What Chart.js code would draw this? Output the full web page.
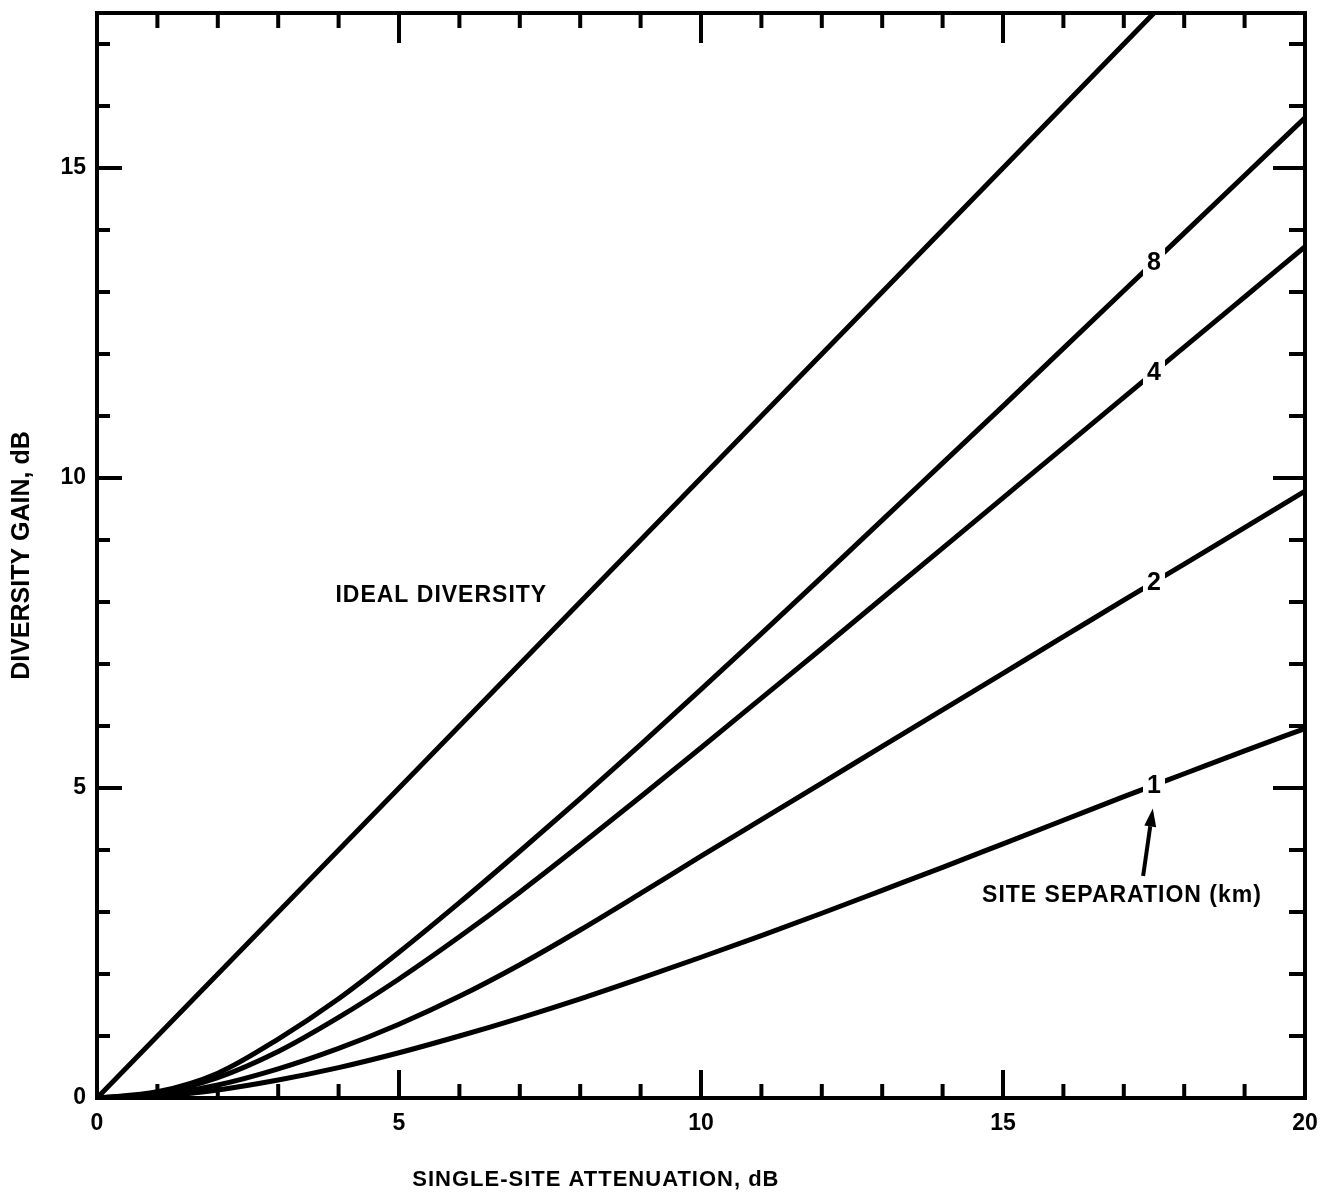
<!DOCTYPE html>
<html>
<head>
<meta charset="utf-8">
<title>Diversity gain vs single-site attenuation</title>
<script src="https://cdn.jsdelivr.net/npm/chart.js@4.4.1/dist/chart.umd.min.js"></script>
<style>
  html, body { margin: 0; padding: 0; background: #ffffff; }
  #wrap { width: 1327px; height: 1200px; position: relative; }
</style>
</head>
<body>
<div id="wrap"><canvas id="chart"></canvas></div>
<script>
// Single-site attenuation, dB (x)
const attenuation = [0, 1, 2, 3, 4, 5, 6, 7, 8, 9, 10, 11, 12, 13, 14, 15, 16, 17, 18, 19, 20];

// Diversity gain, dB, for each site separation
const gain8km = [0, 0.10, 0.40, 0.95, 1.60, 2.35, 3.15, 3.98, 4.83, 5.70, 6.59, 7.49, 8.40, 9.32, 10.24, 11.16, 12.09, 13.02, 13.95, 14.88, 15.81];
const gain4km = [0, 0.08, 0.33, 0.75, 1.30, 1.92, 2.60, 3.32, 4.08, 4.86, 5.65, 6.45, 7.25, 8.06, 8.87, 9.68, 10.49, 11.30, 12.11, 12.92, 13.73];
const gain2km = [0, 0.05, 0.21, 0.47, 0.80, 1.19, 1.64, 2.15, 2.71, 3.30, 3.90, 4.49, 5.08, 5.67, 6.26, 6.85, 7.44, 8.03, 8.61, 9.20, 9.79];
const gain1km = [0, 0.03, 0.13, 0.29, 0.49, 0.73, 1.00, 1.29, 1.60, 1.93, 2.27, 2.62, 2.98, 3.35, 3.72, 4.10, 4.48, 4.86, 5.23, 5.60, 5.96];

// Ideal diversity: gain equals attenuation
const idealX = [0, 17.5];
const idealY = [0, 17.5];

// Curve labels (site separation, km) and where they sit along x
const separationLabels = ['8', '4', '2', '1'];
const labelAtX = 17.5;

// Axis ticks
const xTickLabels = [0, 5, 10, 15, 20];
const yTickLabels = [0, 5, 10, 15];
const xMin = 0, xMax = 20, yMin = 0, yMax = 17.5;

const FONT = '"Liberation Sans", Arial, Helvetica, sans-serif';

function toPoints(xs, ys) {
  return xs.map((x, i) => ({ x: x, y: ys[i] }));
}

const curves = [gain8km, gain4km, gain2km, gain1km];

function valueAt(series, x) {
  for (let i = 0; i < attenuation.length - 1; i++) {
    const x0 = attenuation[i], x1 = attenuation[i + 1];
    if (x >= x0 && x <= x1) {
      const t = (x - x0) / (x1 - x0);
      return series[i] + t * (series[i + 1] - series[i]);
    }
  }
  return series[series.length - 1];
}

const lineStyle = {
  showLine: true,
  borderColor: '#000000',
  borderWidth: 5,
  pointRadius: 0,
  pointHoverRadius: 0,
  cubicInterpolationMode: 'monotone',
  fill: false,
  borderCapStyle: 'round'
};

// Frame, inward tick marks, curve labels and annotations
const framePlugin = {
  id: 'frameAndNotes',
  afterDatasetsDraw(chart) {
    const { ctx, chartArea: a, scales } = chart;
    const xs = scales.x, ys = scales.y;
    ctx.save();

    // Curve labels sitting in a gap of each line
    ctx.font = 'bold 25px ' + FONT;
    ctx.textAlign = 'center';
    ctx.textBaseline = 'middle';
    curves.forEach((series, i) => {
      const px = xs.getPixelForValue(labelAtX);
      const py = ys.getPixelForValue(valueAt(series, labelAtX));
      ctx.fillStyle = '#ffffff';
      ctx.fillRect(px - 11, py - 14, 22, 28);
      ctx.fillStyle = '#000000';
      ctx.fillText(separationLabels[i], px, py + 1);
    });

    // Frame
    ctx.strokeStyle = '#000000';
    ctx.lineWidth = 4;
    ctx.lineCap = 'butt';
    ctx.strokeRect(a.left, a.top, a.right - a.left, a.bottom - a.top);

    // Inward ticks
    ctx.lineWidth = 4;
    ctx.beginPath();
    for (let v = xMin + 1; v < xMax; v++) {
      const px = xs.getPixelForValue(v);
      const major = v % 5 === 0;
      ctx.moveTo(px, a.bottom);
      ctx.lineTo(px, a.bottom - (major ? 28 : 14));
      ctx.moveTo(px, a.top);
      ctx.lineTo(px, a.top + (major ? 30 : 15));
    }
    for (let v = 1; v < yMax; v++) {
      const py = ys.getPixelForValue(v);
      const major = v % 5 === 0;
      ctx.moveTo(a.left, py);
      ctx.lineTo(a.left + (major ? 25 : 13), py);
      ctx.moveTo(a.right, py);
      ctx.lineTo(a.right - (major ? 32 : 16), py);
    }
    ctx.stroke();

    // Text annotations
    ctx.fillStyle = '#000000';
    ctx.font = 'bold 23px ' + FONT;
    ctx.textAlign = 'center';
    ctx.textBaseline = 'middle';
    if ('letterSpacing' in ctx) ctx.letterSpacing = '1px';
    ctx.fillText('IDEAL DIVERSITY', xs.getPixelForValue(5.7), ys.getPixelForValue(8.1));
    ctx.fillText('SITE SEPARATION (km)', xs.getPixelForValue(16.97), ys.getPixelForValue(3.27));

    // X axis title
    ctx.font = 'bold 22px ' + FONT;
    ctx.fillText('SINGLE-SITE ATTENUATION, dB', xs.getPixelForValue(8.26), a.bottom + 82);
    if ('letterSpacing' in ctx) ctx.letterSpacing = '0px';

    // Pointer from the note to the 1 km curve
    const tx = xs.getPixelForValue(17.32), ty = ys.getPixelForValue(3.58);
    const hx = xs.getPixelForValue(17.48), hy = ys.getPixelForValue(4.67);
    const ang = Math.atan2(hy - ty, hx - tx);
    const headLen = 18, headHalf = 6;
    const bx = hx - headLen * Math.cos(ang), by = hy - headLen * Math.sin(ang);
    ctx.lineWidth = 4;
    ctx.beginPath();
    ctx.moveTo(tx, ty);
    ctx.lineTo(bx, by);
    ctx.stroke();
    ctx.beginPath();
    ctx.moveTo(hx, hy);
    ctx.lineTo(bx + headHalf * Math.sin(ang), by - headHalf * Math.cos(ang));
    ctx.lineTo(bx - headHalf * Math.sin(ang), by + headHalf * Math.cos(ang));
    ctx.closePath();
    ctx.fill();

    ctx.restore();
  }
};

const canvas = document.getElementById('chart');
canvas.width = 1327;
canvas.height = 1200;

new Chart(canvas, {
  type: 'scatter',
  data: {
    datasets: [
      Object.assign({ label: 'Ideal diversity', data: toPoints(idealX, idealY) }, lineStyle, { cubicInterpolationMode: 'default', tension: 0 }),
      Object.assign({ label: '8 km', data: toPoints(attenuation, gain8km) }, lineStyle),
      Object.assign({ label: '4 km', data: toPoints(attenuation, gain4km) }, lineStyle),
      Object.assign({ label: '2 km', data: toPoints(attenuation, gain2km) }, lineStyle),
      Object.assign({ label: '1 km', data: toPoints(attenuation, gain1km) }, lineStyle)
    ]
  },
  options: {
    responsive: false,
    animation: false,
    devicePixelRatio: 1,
    layout: { padding: { top: 13, right: 22, left: 0, bottom: 0 } },
    plugins: {
      legend: { display: false },
      tooltip: { enabled: false },
      title: { display: false }
    },
    scales: {
      x: {
        type: 'linear',
        position: 'bottom',
        min: xMin,
        max: xMax,
        grid: { display: false, drawTicks: false },
        border: { display: false },
        ticks: {
          stepSize: 5,
          padding: 12,
          color: '#000000',
          font: { family: FONT, size: 23, weight: 'bold' },
          maxRotation: 0,
          callback: (v) => xTickLabels.includes(v) ? String(v) : ''
        },
        title: { display: false },
        afterFit: (s) => { s.height = 102; s.paddingLeft = 0; s.paddingRight = 0; }
      },
      y: {
        type: 'linear',
        position: 'left',
        min: yMin,
        max: yMax,
        grid: { display: false, drawTicks: false },
        border: { display: false },
        ticks: {
          stepSize: 5,
          includeBounds: false,
          padding: 11,
          color: '#000000',
          font: { family: FONT, size: 23, weight: 'bold' },
          callback: (v) => yTickLabels.includes(v) ? String(v) : ''
        },
        title: {
          display: true,
          text: 'DIVERSITY GAIN, dB',
          color: '#000000',
          font: { family: FONT, size: 25, weight: 'bold' },
          padding: { top: 7, bottom: 0 }
        },
        afterFit: (s) => { s.width = 97; s.paddingTop = 0; s.paddingBottom = 0; }
      }
    }
  },
  plugins: [framePlugin]
});
</script>
</body>
</html>
